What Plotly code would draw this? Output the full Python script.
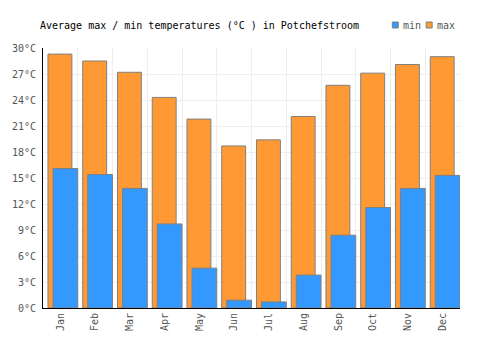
import plotly.graph_objects as go

months = ["Jan", "Feb", "Mar", "Apr", "May", "Jun", "Jul", "Aug", "Sep", "Oct", "Nov", "Dec"]
max_temps = [29.3, 28.5, 27.2, 24.3, 21.8, 18.7, 19.4, 22.1, 25.7, 27.1, 28.1, 29.0]
min_temps = [16.1, 15.4, 13.8, 9.7, 4.6, 0.9, 0.7, 3.8, 8.4, 11.6, 13.8, 15.3]
y_ticks = [0, 3, 6, 9, 12, 15, 18, 21, 24, 27, 30]
y_tick_labels = [f"{v}°C" for v in y_ticks]

FONT = "DejaVu Sans Mono"
MAX_COLOR = "#ff9933"
MIN_COLOR = "#3399ff"
EDGE = "#808080"

W, H = 500, 350
L, R, T, B = 41, 40, 48, 42
PW, PH = W - L - R, H - T - B


def px_x(px):
    return (px - L) / PW


def px_y(py):
    return (H - B - py) / PH


fig = go.Figure()
fig.add_trace(go.Bar(
    x=months, y=max_temps, name="max",
    marker=dict(color=MAX_COLOR, line=dict(color=EDGE, width=1)),
    offset=-0.357, width=0.688,
))
fig.add_trace(go.Bar(
    x=months, y=min_temps, name="min",
    marker=dict(color=MIN_COLOR, line=dict(color=EDGE, width=1)),
    offset=-0.213, width=0.713,
))

# custom compact legend
legend_items = [("min", MIN_COLOR, 392), ("max", MAX_COLOR, 426)]
shapes = []
annotations = []
for label, color, sx in legend_items:
    shapes.append(dict(type="rect", xref="paper", yref="paper",
                       x0=px_x(sx), x1=px_x(sx + 6), y0=px_y(28), y1=px_y(22),
                       fillcolor=color, line=dict(color=EDGE, width=1)))
    annotations.append(dict(text=label, xref="paper", yref="paper",
                            x=px_x(sx + 8.5), y=px_y(25), xanchor="left", yanchor="middle",
                            showarrow=False,
                            font=dict(family=FONT, size=10, color="#555555")))

fig.update_layout(
    width=W, height=H,
    margin=dict(l=L, r=R, t=T, b=B),
    barmode="overlay",
    plot_bgcolor="white", paper_bgcolor="white",
    font=dict(family=FONT, size=10, color="#555555"),
    title=dict(text="Average max / min temperatures (°C ) in Potchefstroom",
               x=40 / W, xanchor="left", xref="container",
               y=1 - 25 / H, yanchor="middle", yref="container",
               font=dict(family=FONT, size=10, color="#000000")),
    showlegend=False,
    shapes=shapes,
    annotations=annotations,
)
fig.update_xaxes(
    type="category", tickson="boundaries", showgrid=True, gridcolor="#eeeeee", gridwidth=1,
    showline=True, linecolor="#000000", linewidth=1, ticks="", tickangle=-90,
    tickfont=dict(family=FONT, size=10, color="#555555"), range=[-0.5, 11.5],
)
fig.update_yaxes(
    range=[0, 30], tickmode="array", tickvals=y_ticks, ticktext=y_tick_labels,
    showgrid=True, gridcolor="#eeeeee", ticklabelstandoff=4,
    gridwidth=1, showline=True, linecolor="#000000", linewidth=1, ticks="", zeroline=False,
    tickfont=dict(family=FONT, size=10, color="#555555"),
)

fig.write_html("out.html")
